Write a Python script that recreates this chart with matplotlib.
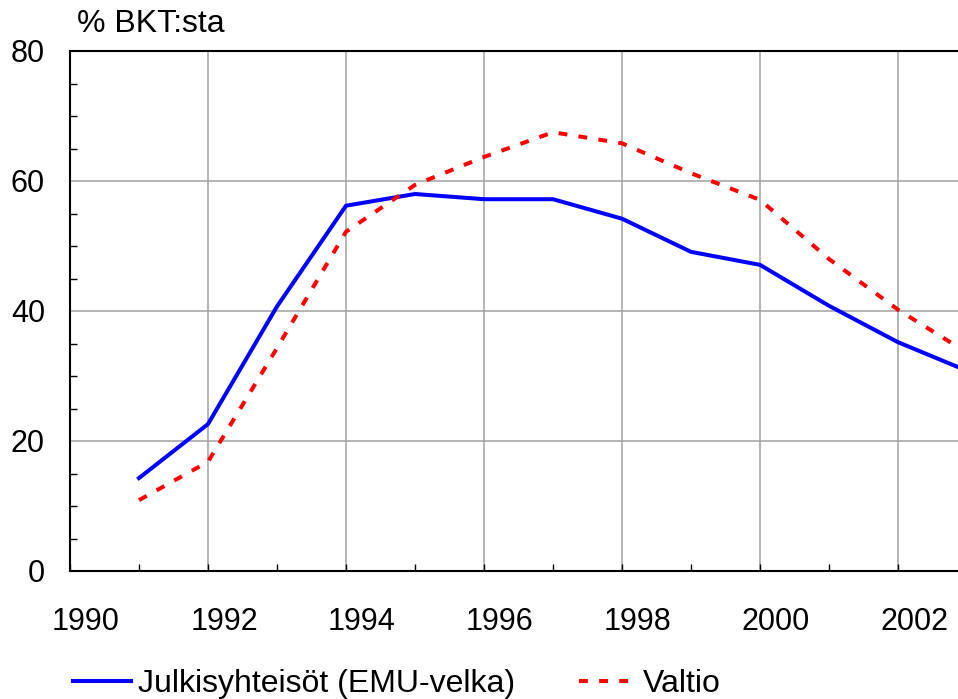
import matplotlib
matplotlib.use("Agg")
import matplotlib.pyplot as plt
import matplotlib.transforms as mtransforms
from matplotlib.ticker import MultipleLocator

plt.rcParams['font.family'] = ['Liberation Sans', 'DejaVu Sans']

# data
years = [1991, 1992, 1993, 1994, 1995, 1996, 1997, 1998, 1999, 2000, 2001, 2002, 2003]
julkis = [14.3, 22.6, 40.7, 56.2, 58.0, 57.2, 57.2, 54.2, 49.1, 47.1, 40.8, 35.2, 30.8]
valtio = [10.9, 16.8, 34.3, 52.2, 59.4, 63.7, 67.5, 65.8, 61.2, 57.1, 48.0, 40.2, 33.6]
xticks = [1990, 1992, 1994, 1996, 1998, 2000, 2002]
yticks = [0, 20, 40, 60, 80]

fs = 22

fig = plt.figure(figsize=(9.58, 6.99), dpi=100)
ax = fig.add_axes([70/958, 128/699, 897/958, 520/699])

ax.plot(years, julkis, color='#0000ff', lw=2.9, label='Julkisyhteisöt (EMU-velka)',
        clip_on=False)
ax.plot(years, valtio, color='#ff0000', lw=2.9, ls=(0, (2.2, 2.8)), label='Valtio',
        clip_on=False)

ax.set_xlim(1990, 2003)
ax.set_ylim(0, 80)
ax.set_xticks(xticks)
ax.set_yticks(yticks)
ax.xaxis.set_minor_locator(MultipleLocator(1))
ax.yaxis.set_minor_locator(MultipleLocator(5))
ax.grid(True, which='major', color='#a0a0a0', lw=1.1)
ax.set_axisbelow(True)
ax.tick_params(which='both', direction='in', length=5, width=1, labelsize=fs)
ax.tick_params(axis='y', which='major', length=0, pad=18)
ax.tick_params(axis='x', which='major', length=5, pad=26)
for sp in ax.spines.values():
    sp.set_linewidth(1.5)
ax.spines['right'].set_visible(False)

# year labels sit a bit right of their gridlines
offset = mtransforms.ScaledTranslation(0.16, 0, fig.dpi_scale_trans)
for lab in ax.get_xticklabels():
    lab.set_transform(lab.get_transform() + offset)

fig.text(77/958, 1 - 24/699, '% BKT:sta', fontsize=23, va='center', ha='left')

fig.legend(loc='lower left', bbox_to_anchor=(73/958, 0.0), ncol=2, frameon=False,
           fontsize=23, handlelength=1.8, handletextpad=0.22, columnspacing=2.0,
           borderaxespad=0, borderpad=0)

fig.savefig('out.png', dpi=100)
